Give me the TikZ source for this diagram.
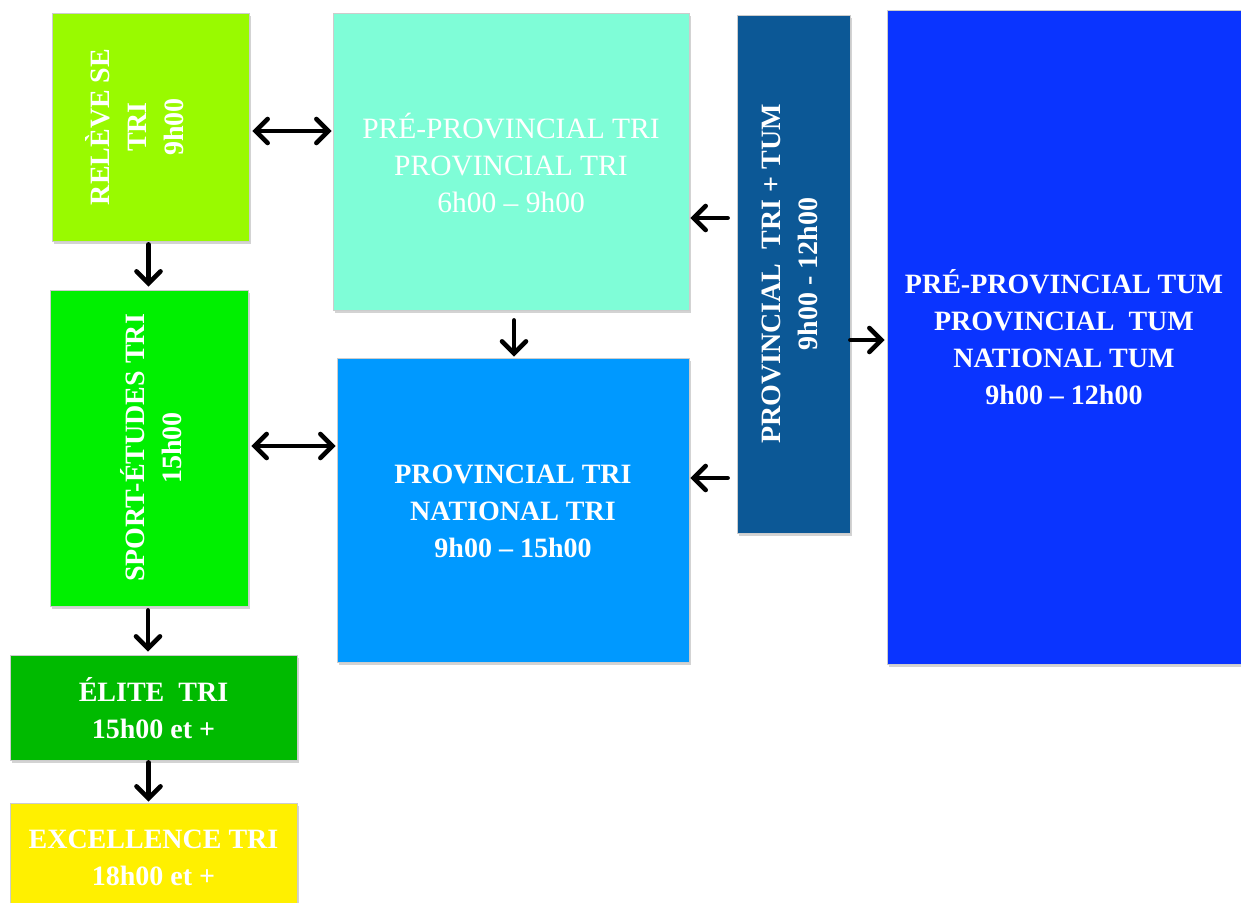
\documentclass[tikz,border=0pt]{standalone}
\usepackage{fontspec}
\setmainfont{Liberation Serif}
\usetikzlibrary{shadows,arrows.meta,calc}
\definecolor{cA}{RGB}{153,250,0}
\definecolor{cB}{RGB}{127,253,215}
\definecolor{cC}{RGB}{12,88,150}
\definecolor{cD}{RGB}{10,52,255}
\definecolor{cE}{RGB}{0,240,0}
\definecolor{cF}{RGB}{0,153,255}
\definecolor{cG}{RGB}{0,186,0}
\definecolor{cH}{RGB}{255,240,0}
\tikzset{
  box/.style={draw=black!20, line width=0.8pt, inner sep=0pt,
    drop shadow={shadow xshift=2pt, shadow yshift=-3pt, opacity=0.35}},
  btxt/.style={text=white, font=\fontsize{28}{37}\selectfont\bfseries, align=center, inner sep=0pt},
  rtxt/.style={text=white, font=\fontsize{29.5}{37}\selectfont, align=center, inner sep=0pt},
  barb/.style={Straight Barb[length=12pt, width=24pt, line cap=round]},
  arr/.style={line width=4.6pt, -{Straight Barb[length=12pt, width=24pt, line cap=round]}, line cap=round},
  darr/.style={line width=4.6pt, {Straight Barb[length=12pt, width=24pt, line cap=round]}-{Straight Barb[length=12pt, width=24pt, line cap=round]}, line cap=round}
}
\begin{document}
\begin{tikzpicture}[x=1pt,y=-1pt]
\useasboundingbox (0,0) rectangle (1241,902);
% boxes
\node[box, fill=cA, minimum width=197pt, minimum height=228pt] (relv) at (150.5,127) {};
\node[btxt, rotate=90] (relvt) at (135,127) {RELÈVE SE\\TRI\\9h00};
\node[box, fill=cB, minimum width=356pt, minimum height=297pt] (pp) at (511,161.5) {};
\node[rtxt, anchor=center] (ppt) at (511,163) {PRÉ-PROVINCIAL TRI\\PROVINCIAL TRI\\6h00 – 9h00};
\node[box, fill=cC, minimum width=113pt, minimum height=518pt] (p3) at (793.5,274) {};
\node[btxt, rotate=90] (p3t) at (790,274) {PROVINCIAL\ \ TRI + TUM\\9h00 - 12h00};
\node[box, fill=cD, minimum width=354pt, minimum height=654pt] (tum) at (1064,337) {};
\node[btxt] (tumt) at (1064,337) {PRÉ-PROVINCIAL TUM\\PROVINCIAL\ \ TUM\\NATIONAL TUM\\9h00 – 12h00};
\node[box, fill=cE, minimum width=198pt, minimum height=316pt] (sport) at (149,448) {};
\node[btxt, rotate=90] (sportt) at (151,448) {SPORT-ÉTUDES TRI\\15h00};
\node[box, fill=cF, minimum width=352pt, minimum height=304pt] (prov) at (513,510) {};
\node[btxt] (provt) at (513,511) {PROVINCIAL TRI\\NATIONAL TRI\\9h00 – 15h00};
\node[box, fill=cG, minimum width=287pt, minimum height=105pt] (elite) at (153.5,707.5) {};
\node[btxt] (elitet) at (153.5,708) {ÉLITE\ \ TRI\\15h00 et +};
\node[box, fill=cH, minimum width=287pt, minimum height=110pt] (exc) at (153.5,858) {};
\node[btxt] (exct) at (153.5,858) {EXCELLENCE TRI\\18h00 et +};
% connectors
\draw[darr, shorten <=3pt, shorten >=1pt] ($(relv.east)+(0,4)$) -- ($(pp.west |- relv.east)+(0,4)$);
\draw[arr, shorten <=3pt, shorten >=3pt] ($(relv.south)+(-2,0)$) -- ($(sport.north -| relv.south)+(-2,0)$);
\draw[arr, shorten <=10pt, shorten >=1pt] ($(pp.south)+(3,0)$) -- ($(prov.north -| pp.south)+(3,0)$);
\draw[darr, shorten <=3pt, shorten >=1pt] ($(sport.east)+(0,-2)$) -- ($(prov.west |- sport.east)+(0,-2)$);
\draw[arr, shorten <=9pt, shorten >=1pt] (p3.west |- 0,218) -- (pp.east |- 0,218);
\draw[arr, shorten <=9pt, shorten >=1pt] (p3.west |- 0,478) -- (prov.east |- 0,478);
\draw[arr, shorten >=2pt] (p3.east |- 0,340) -- (tum.west |- 0,340);
\draw[arr, shorten <=4pt, shorten >=3pt] ($(sport.south)+(-1,0)$) -- ($(elite.north -| sport.south)+(-1,0)$);
\draw[arr, shorten <=2pt, shorten >=1pt] ($(elite.south)+(-5,0)$) -- ($(exc.north -| elite.south)+(-5,0)$);
\end{tikzpicture}
\end{document}
